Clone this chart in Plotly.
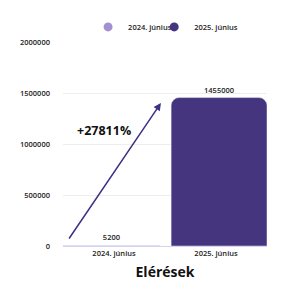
import plotly.graph_objects as go

categories = ["2024. június", "2025. június"]
values = [5200, 1455000]
colors = ["#a48fd2", "#45357f"]
change_label = "+27811%"
y_ticks = [0, 500000, 1000000, 1500000, 2000000]
x_title = "Elérések"

FONT = "Open Sans"
bar_offsets = [-0.5, -0.44]
bar_widths = [0.95, 0.94]
legend_ids = ["legend", "legend2"]
legend_x = [0.123, 0.447]

fig = go.Figure()
for cat, val, col, off, w, lid in zip(categories, values, colors, bar_offsets, bar_widths, legend_ids):
    fig.add_trace(go.Bar(
        x=[cat], y=[val], marker=dict(color=col), showlegend=False,
        offset=off, width=w,
        text=[str(val)], textposition="outside", cliponaxis=False,
        textfont=dict(size=7.5, color="#222", weight=600)
    ))
    fig.add_trace(go.Scatter(
        x=[None], y=[None], mode="markers", name=cat, legend=lid,
        marker=dict(color=col, size=9, symbol="circle")
    ))

fig.add_annotation(
    x=0.46, y=1402000, ax=-0.45, ay=58800,
    xref="x", yref="y", axref="x", ayref="y",
    showarrow=True, arrowhead=2, arrowsize=1, arrowwidth=1.5,
    arrowcolor="#3f2f86", text=""
)
fig.add_annotation(
    x=-0.1, y=1130000, xref="x", yref="y", text=change_label,
    showarrow=False, font=dict(size=12.5, color="#111", family=FONT, weight="bold")
)

leg_common = dict(orientation="h", y=1.074, yanchor="middle", xanchor="left",
                  font=dict(size=7.5, weight=600), itemwidth=30, bgcolor="rgba(0,0,0,0)")
fig.update_layout(
    width=289, height=289,
    margin=dict(l=63, r=22, t=42, b=43, autoexpand=False),
    plot_bgcolor="white", paper_bgcolor="white",
    font=dict(family=FONT, size=7.5, color="#222"),
    barcornerradius=8,
    legend=dict(x=legend_x[0], **leg_common),
    legend2=dict(x=legend_x[1], **leg_common),
    xaxis=dict(title=dict(text=x_title, font=dict(size=14, weight="bold", color="#111"), standoff=10),
               showline=True, linecolor="#d8d3ee", linewidth=1,
               tickfont=dict(size=7.5, weight=600), range=[-0.5, 1.5]),
    yaxis=dict(range=[0, 2000000], tickvals=y_ticks, ticktext=[str(v) for v in y_ticks],
               gridcolor="#eeeeee", zeroline=False, tickfont=dict(size=7.5, weight=600),
               ticklabelstandoff=12),
)

fig.write_html("out.html")
